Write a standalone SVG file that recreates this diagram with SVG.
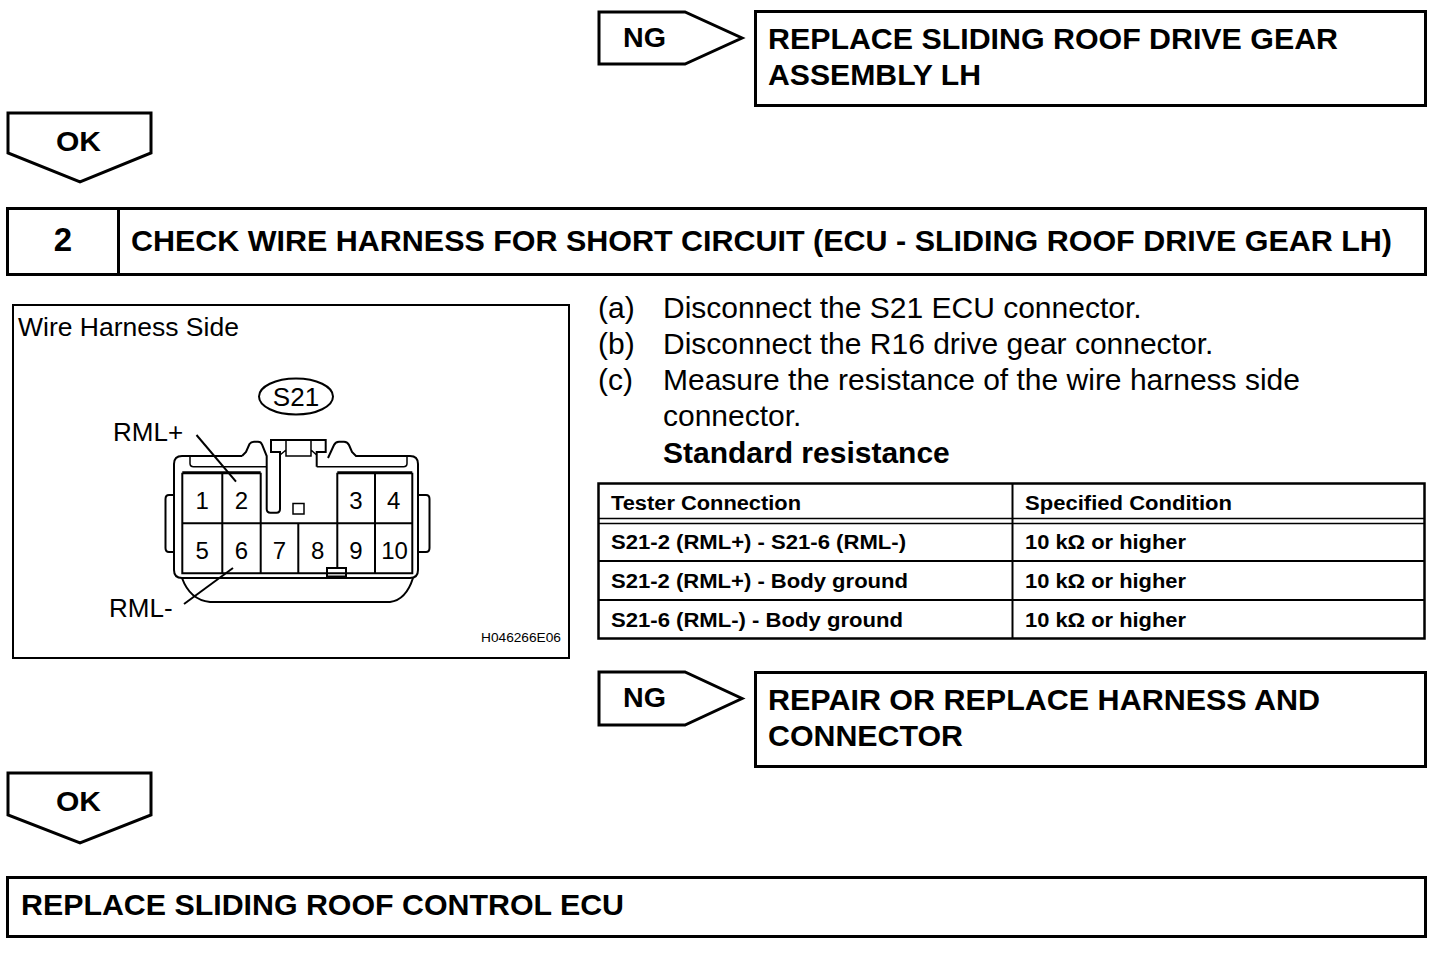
<svg xmlns="http://www.w3.org/2000/svg" width="1456" height="954" viewBox="0 0 1456 954">
<style>
.box{fill:none;stroke:#000;stroke-width:3}
.ln{fill:none;stroke:#000;stroke-width:2}
.thin{fill:none;stroke:#000;stroke-width:1.5}
.b{font-family:"Liberation Sans",Arial,sans-serif;font-weight:bold;fill:#000}
.r{font-family:"Liberation Sans",Arial,sans-serif;fill:#000}
.bt{font-size:30px}
.tt{font-size:20px}
.num{font-size:24px;text-anchor:middle}
</style>
<rect width="1456" height="954" fill="#fff"/>

<g id="ng1">
<path class="box" d="M599,12 L685,12 L742,38 L685,64 L599,64 Z"/>
<text class="b" x="623" y="47" font-size="27" textLength="43" lengthAdjust="spacingAndGlyphs">NG</text>
</g>
<g id="replace-gear">
<rect class="box" x="755.5" y="11.5" width="670" height="94"/>
<text class="b bt" x="768" y="49" textLength="570" lengthAdjust="spacingAndGlyphs">REPLACE SLIDING ROOF DRIVE GEAR</text>
<text class="b bt" x="768" y="85" textLength="213" lengthAdjust="spacingAndGlyphs">ASSEMBLY LH</text>
</g>
<g id="ok1">
<path class="box" d="M8,113 L151,113 L151,153 L80,182 L8,153 Z"/>
<text class="b" x="56" y="151" font-size="27" textLength="45" lengthAdjust="spacingAndGlyphs">OK</text>
</g>
<g id="step2">
<rect class="box" x="7.5" y="208.5" width="1418" height="66"/>
<line class="box" x1="118.5" y1="208.5" x2="118.5" y2="274.5"/>
<text class="b" x="63" y="251" font-size="33" text-anchor="middle">2</text>
<text class="b bt" x="131" y="251" textLength="1261" lengthAdjust="spacingAndGlyphs">CHECK WIRE HARNESS FOR SHORT CIRCUIT (ECU - SLIDING ROOF DRIVE GEAR LH)</text>
</g>

<g id="illustration">
<rect class="ln" x="13" y="305" width="556" height="353"/>
<text class="r" x="18" y="336" font-size="26.5">Wire Harness Side</text>
<ellipse class="ln" cx="296" cy="396.5" rx="37" ry="18"/>
<text class="r" x="296" y="406" font-size="26" text-anchor="middle">S21</text>
<!-- body -->
<path class="ln" d="M242,456 L182,456 Q174,456 174,464 L174,570 Q174,578 182,578 L410,578 Q418,578 418,570 L418,464 Q418,456 410,456 L356,456 L352,452 L349,445 Q347.5,441.7 344,441.7 L339,441.7 Q335.5,441.7 334,445 L328,458"/>
<path class="ln" d="M242,456 L246,452 L249.5,444 Q251,441.7 254,441.7 L258,441.7 Q261,441.7 262,444.5 L266.7,456 L266.7,509 Q266.7,512.7 270.5,512.7 L276.5,512.7 Q280,512.7 280,509 L280,452 L271,452 L271,440 L325.7,440 L325.7,452 L316.7,452 L316.7,466.7"/>
<path class="thin" d="M286,440 L286,456 L311,456 L311,440 M280,455 L286,450 M311,450 L316.7,455"/>
<!-- lips -->
<path class="thin" d="M190,456 L190,463.5 Q190,466.7 193.5,466.7 L266.7,466.7 M316.7,466.7 L403.5,466.7 Q407,466.7 407,463.5 L407,456"/>
<!-- skirt -->
<path class="ln" d="M182,578 Q190,600 210,602 L390,602 Q406,600 413,578"/>
<!-- side tabs -->
<path class="ln" d="M174,495 L169,495 Q165.5,495 165.5,499 L165.5,548 Q165.5,552 169,552 L174,552 M418,495 L426,495 Q429.5,495 429.5,499 L429.5,548 Q429.5,552 426,552 L418,552"/>
<!-- grid -->
<path d="M182.3,472.7 L260.7,472.7 M337.3,472.7 L412.3,472.7" stroke="#000" stroke-width="3" fill="none"/>
<path class="ln" d="M182.3,472.7 L182.3,573.3 L412.3,573.3 L412.3,472.7 M182.3,523.3 L412.3,523.3 M222.3,472.7 L222.3,573.3 M260.7,472.7 L260.7,573.3 M298.3,523.3 L298.3,573.3 M337.3,472.7 L337.3,567.7 M375,472.7 L375,573.3"/>
<rect class="thin" x="293" y="503.5" width="11" height="10.5" fill="#fff"/>
<rect class="ln" x="327" y="568" width="19" height="8.5" fill="#fff"/>
<text class="r num" x="202.3" y="508.5">1</text>
<text class="r num" x="241.5" y="508.5">2</text>
<text class="r num" x="356" y="508.5">3</text>
<text class="r num" x="393.7" y="508.5">4</text>
<text class="r num" x="202.3" y="558.5">5</text>
<text class="r num" x="241.5" y="558.5">6</text>
<text class="r num" x="279.5" y="558.5">7</text>
<text class="r num" x="317.8" y="558.5">8</text>
<text class="r num" x="356" y="558.5">9</text>
<text class="r num" x="394.5" y="558.5">10</text>
<line class="ln" x1="196.5" y1="435" x2="236" y2="481.7"/>
<line class="ln" x1="233" y1="568" x2="184" y2="604"/>
<text class="r" x="113" y="441" font-size="26">RML+</text>
<text class="r" x="109" y="617" font-size="26">RML-</text>
<text class="r" x="481" y="642" font-size="13.5" textLength="80" lengthAdjust="spacingAndGlyphs">H046266E06</text>
</g>

<g id="instructions">
<text class="r" x="598" y="318" font-size="30">(a)</text>
<text class="r" x="663" y="318" font-size="30">Disconnect the S21 ECU connector.</text>
<text class="r" x="598" y="354" font-size="30">(b)</text>
<text class="r" x="663" y="354" font-size="30">Disconnect the R16 drive gear connector.</text>
<text class="r" x="598" y="390" font-size="30">(c)</text>
<text class="r" x="663" y="390" font-size="30">Measure the resistance of the wire harness side</text>
<text class="r" x="663" y="426" font-size="30">connector.</text>
<text class="b" x="663" y="463" font-size="30">Standard resistance</text>
</g>

<g id="table">
<rect x="598.5" y="483.5" width="826" height="155" fill="none" stroke="#000" stroke-width="2.5"/>
<line class="thin" x1="598.5" y1="518.5" x2="1424.5" y2="518.5"/>
<line class="thin" x1="598.5" y1="523.5" x2="1424.5" y2="523.5"/>
<line class="ln" x1="598.5" y1="561" x2="1424.5" y2="561"/>
<line class="ln" x1="598.5" y1="600" x2="1424.5" y2="600"/>
<line class="ln" x1="1012.5" y1="483.5" x2="1012.5" y2="638.5"/>
<text class="b tt" x="611" y="509.5" textLength="190" lengthAdjust="spacingAndGlyphs">Tester Connection</text>
<text class="b tt" x="1025" y="509.5" textLength="207" lengthAdjust="spacingAndGlyphs">Specified Condition</text>
<text class="b tt" x="611" y="548.5" textLength="295" lengthAdjust="spacingAndGlyphs">S21-2 (RML+) - S21-6 (RML-)</text>
<text class="b tt" x="1025" y="548.5" textLength="161" lengthAdjust="spacingAndGlyphs">10 kΩ or higher</text>
<text class="b tt" x="611" y="587.5" textLength="297" lengthAdjust="spacingAndGlyphs">S21-2 (RML+) - Body ground</text>
<text class="b tt" x="1025" y="587.5" textLength="161" lengthAdjust="spacingAndGlyphs">10 kΩ or higher</text>
<text class="b tt" x="611" y="626.5" textLength="292" lengthAdjust="spacingAndGlyphs">S21-6 (RML-) - Body ground</text>
<text class="b tt" x="1025" y="626.5" textLength="161" lengthAdjust="spacingAndGlyphs">10 kΩ or higher</text>
</g>

<g id="ng2">
<path class="box" d="M599,672 L685,672 L742,698.5 L685,725 L599,725 Z"/>
<text class="b" x="623" y="707" font-size="27" textLength="43" lengthAdjust="spacingAndGlyphs">NG</text>
</g>
<g id="repair-harness">
<rect class="box" x="755.5" y="672.5" width="670" height="94"/>
<text class="b bt" x="768" y="710" textLength="552" lengthAdjust="spacingAndGlyphs">REPAIR OR REPLACE HARNESS AND</text>
<text class="b bt" x="768" y="746" textLength="195" lengthAdjust="spacingAndGlyphs">CONNECTOR</text>
</g>
<g id="ok2">
<path class="box" d="M8,773 L151,773 L151,815 L80,843 L8,815 Z"/>
<text class="b" x="56" y="811" font-size="27" textLength="45" lengthAdjust="spacingAndGlyphs">OK</text>
</g>
<g id="replace-ecu">
<rect class="box" x="7.5" y="877.5" width="1418" height="59"/>
<text class="b bt" x="21" y="915" textLength="603" lengthAdjust="spacingAndGlyphs">REPLACE SLIDING ROOF CONTROL ECU</text>
</g>
<g id="connectors"></g>
</svg>
